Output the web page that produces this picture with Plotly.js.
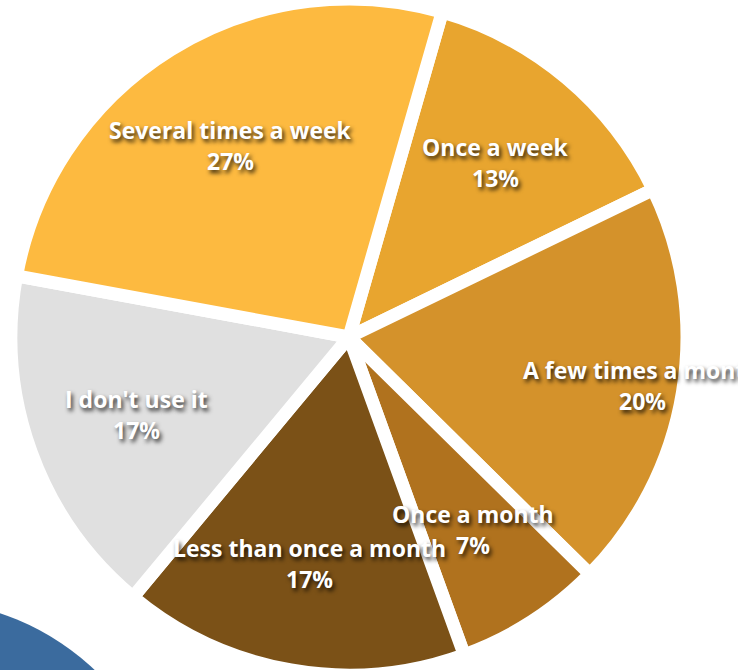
<!DOCTYPE html>
<html>
<head>
<meta charset="utf-8">
<script src="https://cdn.plot.ly/plotly-3.0.1.min.js"></script>
<style>
html,body{margin:0;padding:0;background:#fff;overflow:hidden;}
#chart{width:738px;height:676px;margin-top:-1px;}
</style>
</head>
<body>
<div id="chart"></div>
<script>
var categories = ["Once a week", "A few times a month", "Once a month", "Less than once a month", "I don't use it", "Several times a week"];
var values = [13.4, 19.6, 7.1, 16.6, 16.9, 26.6];
var colors = ["#E8A52F", "#D4922B", "#B0721E", "#7B5117", "#E0E0E0", "#FDBA40"];

var W = 738, H = 676;
var cx = 349, cy = 338, R = 338;
var rotationDeg = 16;
var labelFrac = [0.675, 0.88, 0.678, 0.68, 0.67, 0.668];
var lineGap = 15.5;

var total = values.reduce(function(a, b){ return a + b; }, 0);
var annotations = [];
var cum = 0;
var fnt = {family: 'Open Sans, sans-serif', size: 23, color: '#ffffff', weight: 700,
           shadow: '2px 3px 4px rgba(0,0,0,0.8)'};
for (var i = 0; i < values.length; i++) {
  var mid = rotationDeg + (cum + values[i] / 2) / total * 360;
  cum += values[i];
  var th = mid * Math.PI / 180;
  var r = R * labelFrac[i];
  var px = cx + r * Math.sin(th);
  var py = cy - r * Math.cos(th);
  var pct = Math.round(values[i] / total * 100);
  annotations.push({
    xref: 'paper', yref: 'paper',
    x: px / W, y: 1 - (py - lineGap) / H,
    xanchor: 'center', yanchor: 'middle',
    text: categories[i], showarrow: false, font: fnt
  });
  annotations.push({
    xref: 'paper', yref: 'paper',
    x: px / W, y: 1 - (py + lineGap) / H,
    xanchor: 'center', yanchor: 'middle',
    text: pct + '%', showarrow: false, font: fnt
  });
}

var data = [{
  type: 'pie',
  labels: categories,
  values: values,
  sort: false,
  direction: 'clockwise',
  rotation: rotationDeg,
  marker: {colors: colors, line: {color: '#ffffff', width: 13}},
  textinfo: 'none',
  hoverinfo: 'none',
  showlegend: false,
  domain: {x: [0, 2 * cx / W], y: [0, 1]}
}];

var layout = {
  width: W, height: H,
  margin: {l: 0, r: 0, t: 0, b: 0},
  paper_bgcolor: '#ffffff',
  plot_bgcolor: '#ffffff',
  showlegend: false,
  annotations: annotations,
  shapes: [{
    type: 'circle', xref: 'paper', yref: 'paper', layer: 'below',
    x0: (-81 - 256) / W, x1: (-81 + 256) / W,
    y0: 1 - (857 + 256) / H, y1: 1 - (857 - 256) / H,
    fillcolor: '#3B6B9E', line: {width: 0}
  }]
};

Plotly.newPlot('chart', data, layout, {staticPlot: true, displayModeBar: false});
</script>
</body>
</html>
